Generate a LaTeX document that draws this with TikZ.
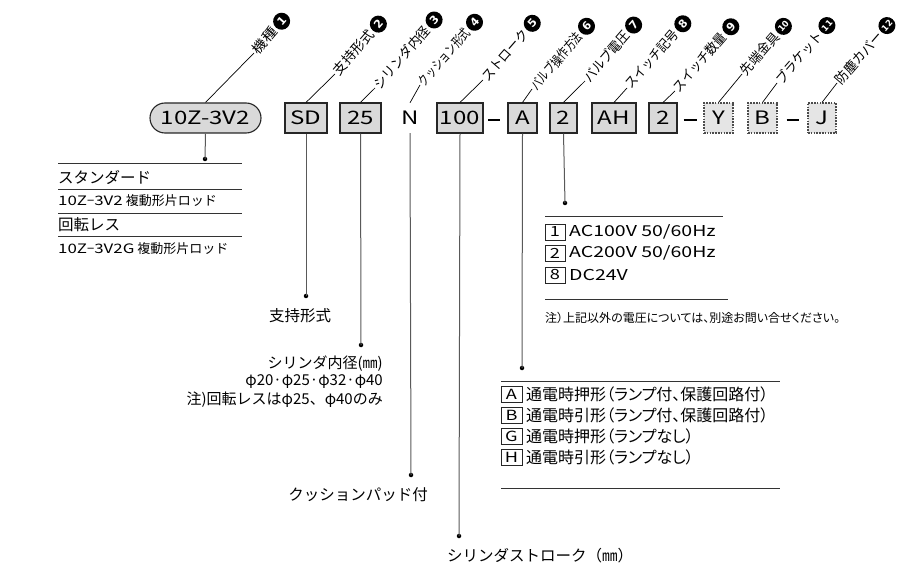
\documentclass[tikz,border=0pt]{standalone}
\usepackage{graphicx}
\usepackage{fontspec}
\setmainfont{Noto Sans CJK JP}
\newfontfamily\jpf{Noto Sans CJK JP}
\newfontfamily\latf[FakeStretch=1.3]{Noto Sans CJK JP}
\newfontfamily\palf[RawFeature=+palt]{Noto Sans CJK JP}
\newfontfamily\numf{DejaVu Sans}
\newcommand\myfs[1]{\fontsize{#1}{#1}\selectfont}
\begin{document}
\begin{tikzpicture}[x=1pt,y=-1pt,
  box/.style={draw=black!85, line width=1.1pt, fill=black!15, minimum height=30pt, inner sep=0pt, font=\latf\myfs{18.5}},
  optbox/.style={box, draw=black!70, dash pattern=on 1.6pt off 1.2pt, fill=black!10},
  lead/.style={line width=0.7pt},
  drop/.style={draw=black!65, line width=1pt},
  dotc/.style={circle, fill=black, inner sep=0pt, minimum size=4.5pt},
  lbl/.style={rotate=49, anchor=west, inner sep=1.5pt, font=\jpf\myfs{13.5}},
  num/.style={circle, fill=black, text=white, inner sep=0pt, minimum size=17pt, font=\numf\bfseries\myfs{11}, rotate=49, anchor=west},
  kbox/.style={draw=black!85, line width=0.8pt, minimum width=20pt, minimum height=16pt, inner sep=0pt, font=\latf\myfs{14}},
  trule/.style={draw=black!80, line width=1pt},
  txt/.style={inner sep=0pt}
]
\path[use as bounding box] (0,0) rectangle (911,564);

% ---------- code boxes ----------
\node[box, minimum width=111pt, rounded corners=15pt] (pill) at (205.5,118) {10Z-3V2};
\node[box, minimum width=42pt] (sd) at (306,118) {SD};
\node[box, minimum width=41pt] (b25) at (360.5,118) {25};
\node[minimum height=30pt, inner sep=0pt, font=\latf\myfs{18.5}] (n) at (410,118) {N};
\node[box, minimum width=46pt] (b100) at (460,118) {100};
\node[txt] (m1) at (494,120) {\rule{12pt}{1.4pt}};
\node[box, minimum width=29pt] (ba) at (522.5,118) {A};
\node[box, minimum width=27pt] (b2) at (563.5,118) {2};
\node[box, minimum width=44pt] (bah) at (614,118) {AH};
\node[box, minimum width=28pt] (b2b) at (663,118) {2};
\node[txt] (m2) at (690,120) {\rule{13pt}{1.4pt}};
\node[optbox, minimum width=29pt] (by) at (718.5,118) {Y};
\node[optbox, minimum width=29pt] (bb) at (762.5,118) {B};
\node[txt] (m3) at (792.5,120) {\rule{12pt}{1.4pt}};
\node[optbox, minimum width=28pt] (bj) at (822,118) {J};

% ---------- top leaders ----------
\foreach \b/\px/\py/\w/\t/\k in {
  pill/254/53/30/機種/1, sd/335/74/54/支持形式/2, b25/375/88/78/シリンダ内径/3,
  n/420/85/71/クッション形式/4, b100/483/80/63/ストローク/5, ba/532/89/71/バルブ操作方法/6,
  b2/585/81/62/バルブ電圧/7, bah/627/88/73/スイッチ記号/8, b2b/675/91/73/スイッチ数量/9,
  by/742/74/51/先端金具/10, bb/777/83/64/ブラケット/11, bj/837/83/64/防塵カバー/12}{
  \coordinate (p\k) at (\px,\py);
  \draw[lead] (\b.north) -- (p\k);
  \node[lbl] (t\k) at (p\k) {\resizebox{\w pt}{\height}{\t}};
  \node[num] (c\k) at (t\k.east) {\ifnum\k>9 \myfs{8.5}\fi\k};
}

% ---------- model (left table) ----------
\node[dotc] (e1) at (205,159) {};
\draw[drop] (pill.south) -- (e1.center);
\draw[trule] (58,164) -- (242,164);
\draw[trule] (58,190) -- (242,190);
\draw[trule] (58,214) -- (242,214);
\draw[trule] (58,237) -- (242,237);
\node[txt, anchor=west, font=\jpf\myfs{15.5}] (s1) at (58,177) {スタンダード};
\node[txt, anchor=west, font=\jpf\myfs{13}] (s2) at (58,201) {{\latf 10Z}−{\latf 3V2} 複動形片ロッド};
\node[txt, anchor=west, font=\jpf\myfs{15.5}] (s3) at (58,225) {回転レス};
\node[txt, anchor=west, font=\jpf\myfs{13}] (s4) at (58,249) {{\latf 10Z}−{\latf 3V2G} 複動形片ロッド};

% ---------- support ----------
\node[dotc] (e2) at (306,296) {};
\draw[drop] (sd.south) -- (e2.center);
\node[txt, font=\jpf\myfs{15.5}] (s5) at (300,316) {支持形式};

% ---------- bore ----------
\node[dotc] (e3) at (361,345) {};
\draw[drop] (b25.south) -- (e3.center);
\node[txt, anchor=east, font=\jpf\myfs{15}] (s6) at (383,364) {シリンダ内径(㎜)};
\node[txt, anchor=east, font=\jpf\myfs{15}] (s7) at (383,382) {φ20·φ25·φ32·φ40};
\node[txt, anchor=east, font=\jpf\myfs{15}] (s8) at (383,400) {注)回転レスはφ25、φ40のみ};

% ---------- cushion ----------
\node[dotc] (e4) at (411,475) {};
\draw[drop] (n.south) -- (e4.center);
\node[txt, anchor=east, font=\jpf\myfs{15.5}] (s9) at (428,495) {クッションパッド付};

% ---------- stroke ----------
\node[dotc] (e5) at (459,536) {};
\draw[drop] (b100.south) -- (e5.center);
\node[txt, anchor=west, font=\jpf\myfs{15.5}] (s10) at (447,556) {シリンダストローク（㎜）};

% ---------- valve operation ----------
\node[dotc] (e6) at (522,368) {};
\draw[drop] (ba.south) -- (e6.center);
\draw[trule] (501,381) -- (780,381);
\draw[trule] (501,488) -- (780,488);
\foreach \k/\y/\t in {A/394/通電時押形（ランプ付、保護回路付）, B/415/通電時引形（ランプ付、保護回路付）,
  G/436/通電時押形（ランプなし）, H/457/通電時引形（ランプなし）}{
  \node[kbox, minimum width=21pt] (k\k) at (511.5,\y) {\k};
  \node[txt, anchor=west, font=\palf\myfs{16}] (r\k) at (526,\y) {\t};
}

% ---------- valve voltage ----------
\node[dotc] (e7) at (565,203) {};
\draw[drop] (b2.south) -- (e7.center);
\draw[trule] (545,217) -- (723,217);
\draw[trule] (545,300) -- (728,300);
\foreach \k/\y/\t in {1/232/{AC100V 50/60Hz}, 2/253/{AC200V 50/60Hz}, 8/275/{DC24V}}{
  \node[kbox] (v\k) at (555,\y) {\k};
  \node[txt, anchor=west, font=\latf\myfs{15}] (w\k) at (569,\y) {\t};
}
\node[txt, anchor=west, font=\palf\myfs{12}] (note) at (545,318) {注）上記以外の電圧については、別途お問い合せください。};
\end{tikzpicture}
\end{document}
